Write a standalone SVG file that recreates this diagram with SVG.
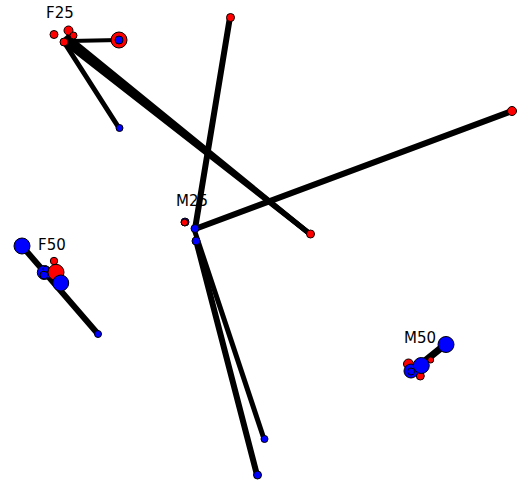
<svg xmlns="http://www.w3.org/2000/svg" width="520" height="485" viewBox="0 0 520 485">
<style>
.lbl{font-family:"DejaVu Sans",sans-serif;font-size:15px;fill:#000}
.e{stroke:#000;stroke-linecap:round;fill:none}
.r{fill:#ff0000;stroke:#000;stroke-width:1}
.b{fill:#0000ff;stroke:#000;stroke-width:1}
</style>
<rect width="520" height="485" fill="#fff"/>
<g id="labels">
<text class="lbl" x="46" y="18">F25</text>
<text class="lbl" x="176" y="206">M25</text>
<text class="lbl" x="38" y="250">F50</text>
<text class="lbl" x="404" y="343">M50</text>
</g>
<g id="connectors">
<line class="e" x1="64" y1="42" x2="310" y2="234" stroke-width="5"/>
<line class="e" x1="66" y1="39" x2="310" y2="234" stroke-width="5"/>
<line class="e" x1="68" y1="37" x2="310" y2="234" stroke-width="5"/>
<line class="e" x1="64" y1="42" x2="119" y2="128" stroke-width="5"/>
<line class="e" x1="70" y1="41" x2="119" y2="40" stroke-width="4"/>
<line class="e" x1="230" y1="17" x2="195" y2="229" stroke-width="6"/>
<line class="e" x1="512" y1="111" x2="195" y2="229" stroke-width="6"/>
<line class="e" x1="195" y1="232" x2="264" y2="439" stroke-width="5"/>
<line class="e" x1="196" y1="240" x2="257" y2="475" stroke-width="6"/>
<line class="e" x1="22" y1="246" x2="98" y2="334" stroke-width="6"/>
<line class="e" x1="446" y1="344" x2="415" y2="369" stroke-width="7"/>
</g>
<g id="F25">
<circle class="r" cx="54" cy="34.5" r="4"/>
<circle class="r" cx="68.5" cy="30.5" r="4.5"/>
<circle class="r" cx="73.5" cy="35.5" r="3.5"/>
<circle class="r" cx="64" cy="42" r="4"/>
<circle class="r" cx="119" cy="40" r="8"/>
<circle class="b" cx="119" cy="40" r="4"/>
<circle class="b" cx="119.5" cy="128" r="3.5"/>
</g>
<g id="n_red_top"><circle class="r" cx="230.5" cy="17.5" r="4"/></g>
<g id="n_red_right"><circle class="r" cx="512" cy="111" r="4.5"/></g>
<g id="n_red_mid"><circle class="r" cx="310.5" cy="234" r="4"/></g>
<g id="M25">
<circle class="b" cx="185" cy="222" r="4"/>
<circle class="r" cx="184.5" cy="222.5" r="3.3"/>
<circle class="b" cx="195" cy="228.5" r="4"/>
<circle class="b" cx="196" cy="241" r="4"/>
<circle class="b" cx="264.5" cy="439" r="3.5"/>
<circle class="b" cx="257.5" cy="475" r="4"/>
</g>
<g id="F50">
<circle class="b" cx="22" cy="246" r="8"/>
<circle class="b" cx="44.3" cy="272.5" r="7"/>
<circle class="b" cx="44" cy="275" r="4"/>
<circle class="b" cx="46" cy="269" r="3"/>
<circle class="r" cx="54" cy="261" r="3.7"/>
<circle class="r" cx="56" cy="272.3" r="8"/>
<circle class="b" cx="60.7" cy="283" r="8"/>
<circle class="b" cx="98" cy="334" r="3.5"/>
</g>
<g id="M50">
<circle class="b" cx="446" cy="344.5" r="8"/>
<circle class="r" cx="430.7" cy="360" r="3"/>
<circle class="r" cx="408.5" cy="364" r="5"/>
<circle class="r" cx="420.3" cy="376" r="4"/>
<circle class="b" cx="411" cy="371" r="7"/>
<circle class="b" cx="411" cy="371.5" r="3.5"/>
<circle class="b" cx="421.3" cy="365.5" r="8"/>
</g>
</svg>
